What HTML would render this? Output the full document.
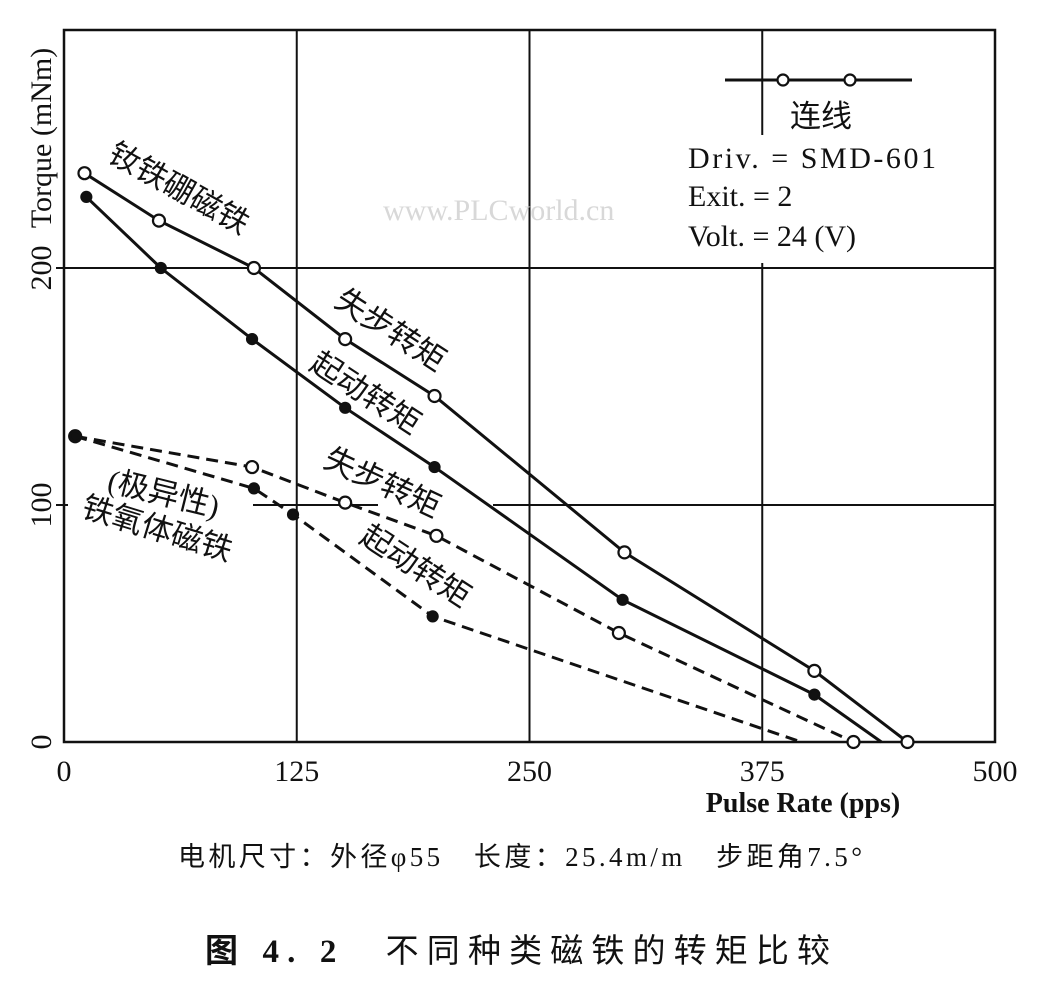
<!DOCTYPE html>
<html><head><meta charset="utf-8">
<style>
html,body{margin:0;padding:0;background:#fff;}
svg{display:block;}
text{font-family:"Liberation Serif","Noto Serif CJK SC","Noto Sans CJK SC",serif;fill:#111;}
.cjk{font-family:"Liberation Serif","Noto Sans CJK SC",sans-serif;}
</style></head>
<body>
<svg id="chart" width="1037" height="984" viewBox="0 0 1037 984">
  <rect x="0" y="0" width="1037" height="984" fill="#fff"/>
  <g id="grid"></g>
  <g id="series"></g>
  <g id="labels"></g>
</svg>
<script>
const xTicks = [0, 125, 250, 375, 500];
const yTicks = [0, 100, 200];
const ndOutX = [11, 51, 102, 151, 199, 301, 403, 453];
const ndOutY = [240, 220, 200, 170, 146, 80, 30, 0];
const ndInX = [12, 52, 101, 151, 199, 300, 403, 439];
const ndInY = [230, 200, 170, 141, 116, 60, 20, 0];
const feOutX = [6, 101, 151, 200, 298, 424];
const feOutY = [129, 116, 101, 87, 46, 0];
const feInX = [6, 102, 123, 198, 396];
const feInY = [129, 107, 96, 53, 0];

const X0 = 64, X1 = 995, Y0 = 742, YTOP = 30;
function sx(v){ return X0 + (X1 - X0) * v / 500; }
function sy(v){ return Y0 - v * 2.37; }
const NS = "http://www.w3.org/2000/svg";
function mk(tag, attrs, parent){
  const e = document.createElementNS(NS, tag);
  for (const k in attrs) e.setAttribute(k, attrs[k]);
  parent.appendChild(e);
  return e;
}
const grid = document.getElementById('grid');
const series = document.getElementById('series');
const labels = document.getElementById('labels');

const frame = mk('rect', {x:X0, y:YTOP, width:X1-X0, height:Y0-YTOP, fill:'none', stroke:'#111', 'stroke-width':2.5}, grid);



xTicks.forEach(t => {
  if (t > 0 && t < 500) {
    const l = mk('line', {x1:sx(t), y1:YTOP, x2:sx(t), y2:Y0, stroke:'#111', 'stroke-width':2}, grid);
    
    
  }
  const tx = mk('text', {x:sx(t), y:Y0+39, 'font-size':30, 'text-anchor':'middle'}, labels);
  tx.textContent = t;
  
  
});
yTicks.forEach(t => {
  if (t > 0) {
    const l = mk('line', {x1:X0-8, y1:sy(t), x2:X1, y2:sy(t), stroke:'#111', 'stroke-width':2}, grid);
    
    
  }
  const tx = mk('text', {x:0, y:0, 'font-size':30, 'text-anchor':'middle', transform:`translate(51,${sy(t)}) rotate(-90)`}, labels);
  tx.textContent = t;
  
  
});

[[68,495,185,26],[378,495,115,26],[755,135,25,128]].forEach(r => {
  const m = mk('rect', {x:r[0], y:r[1], width:r[2], height:r[3], fill:'#fff'}, grid);
  
  
});

function drawSeries(xs, ys, dashed, open, name){
  const pts = xs.map((x,i) => sx(x)+','+sy(ys[i])).join(' ');
  const pl = mk('polyline', {points:pts, fill:'none', stroke:'#111', 'stroke-width':3, 'stroke-dasharray': dashed ? '12,7' : 'none'}, series);
  
  
  xs.forEach((x,i) => {
    if (!open && i === xs.length-1) return;
    const c = mk('circle', {cx:sx(x), cy:sy(ys[i]), r: open ? 6 : 5, fill: open ? '#fff' : '#111', stroke:'#111', 'stroke-width':2.2}, series);
    
    
  });
}
drawSeries(ndOutX, ndOutY, false, true, 'ndfeb-pullout');
drawSeries(ndInX, ndInY, false, false, 'ndfeb-pullin');
drawSeries(feOutX, feOutY, true, true, 'ferrite-pullout');
drawSeries(feInX, feInY, true, false, 'ferrite-pullin');
</script>
<svg style="position:absolute;left:0;top:0" width="1037" height="984">
  <text x="383" y="220" font-size="30" style="fill:#d8d8d8">www.PLCworld.cn</text>
  <g>
    <line x1="725" y1="80" x2="912" y2="80" stroke="#111" stroke-width="3"/>
    <circle cx="783" cy="80" r="5.5" fill="#fff" stroke="#111" stroke-width="2.2"/>
    <circle cx="850" cy="80" r="5.5" fill="#fff" stroke="#111" stroke-width="2.2"/>
    <text class="cjk" x="790" y="127" font-size="31">连线</text>
    <text x="688" y="168" font-size="30" textLength="248">Driv. =  SMD-601</text>
    <text x="688" y="206" font-size="30">Exit. =  2</text>
    <text x="688" y="246" font-size="30">Volt. =  24 (V)</text>
  </g>
  <text x="0" y="0" font-size="30" transform="translate(51,138) rotate(-90)" text-anchor="middle">Torque (mNm)</text>
  <text x="803" y="812" font-size="28" font-weight="bold" text-anchor="middle">Pulse Rate (pps)</text>
  <text class="cjk" x="106" y="160" font-size="31" transform="rotate(29 106 160)">钕铁硼磁铁</text>
  <text class="cjk" x="333" y="305" font-size="31" transform="rotate(33 333 305)">失步转矩</text>
  <text class="cjk" x="308" y="368" font-size="31" transform="rotate(33 308 368)">起动转矩</text>
  <text class="cjk" x="322" y="466" font-size="31" transform="rotate(25 322 466)">失步转矩</text>
  <text class="cjk" x="358" y="541" font-size="31" transform="rotate(33 358 541)">起动转矩</text>
  <text class="cjk" x="106" y="490" font-size="31" transform="rotate(14 106 490)">(极异性)</text>
  <text class="cjk" x="80" y="516" font-size="31" transform="rotate(17 80 516)">铁氧体磁铁</text>
  <text class="cjk" x="178" y="866" font-size="27" textLength="684">电机尺寸：外径φ55　长度：25.4m/m　步距角7.5°</text>
  <text class="cjk" x="205" y="962" font-size="33" textLength="625"><tspan font-weight="bold">图 4. 2</tspan>　不同种类磁铁的转矩比较</text>
</svg>
</body></html>
